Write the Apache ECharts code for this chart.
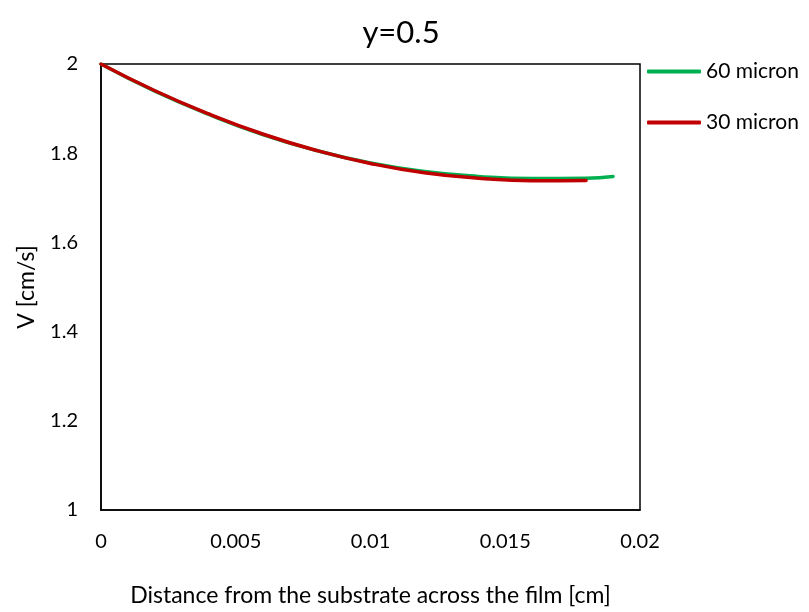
<!DOCTYPE html>
<html><head><meta charset="utf-8">
<script src="https://cdn.jsdelivr.net/npm/echarts@6/dist/echarts.min.js"></script>
<style>html,body{margin:0;padding:0;background:#fff}#c{width:809px;height:612px}</style>
</head><body><div id="c"></div>
<script>
const xValues60 = [0, 0.002, 0.004, 0.006, 0.008, 0.010, 0.012, 0.014, 0.016, 0.018, 0.019];
const v60 = [2.000, 1.939, 1.887, 1.842, 1.806, 1.778, 1.759, 1.748, 1.743, 1.744, 1.748];
const xValues30 = [0, 0.002, 0.004, 0.006, 0.008, 0.010, 0.012, 0.014, 0.016, 0.018];
const v30 = [2.000, 1.940, 1.888, 1.843, 1.806, 1.777, 1.756, 1.744, 1.738, 1.739];
const xTicks = [0, 0.005, 0.01, 0.015, 0.02];
const yTicks = [1, 1.2, 1.4, 1.6, 1.8, 2];
const seriesNames = ['60 micron', '30 micron'];

const font = 'Lato, "Open Sans", sans-serif';
const chart = echarts.init(document.getElementById('c'), null, {renderer: 'canvas'});
chart.setOption({
  animation: false,
  backgroundColor: '#fff',
  title: {text: 'y=0.5', left: 396, top: 12, textAlign: 'center',
    textStyle: {fontFamily: font, fontSize: 31, fontWeight: 'normal', color: '#000'}},
  legend: {orient: 'vertical', left: 647, top: 61, padding: 0, itemGap: 30, itemWidth: 54, itemHeight: 4,
    icon: 'roundRect', data: seriesNames,
    textStyle: {fontFamily: font, fontSize: 21, color: '#000', padding: [0, 0, 0, 0]}},
  grid: {left: 101, right: 169, top: 64, bottom: 99, show: true, borderColor: '#000', borderWidth: 1.5},
  xAxis: {type: 'value', min: 0, max: 0.02, interval: 0.005,
    name: 'Distance from the substrate across the film [cm]', nameLocation: 'middle', nameGap: 74,
    nameTextStyle: {fontFamily: font, fontSize: 23, color: '#000'},
    axisLine: {show: true, lineStyle: {color: '#000', width: 1.5}},
    axisTick: {show: false}, splitLine: {show: false},
    axisLabel: {fontFamily: font, fontSize: 20, color: '#000', margin: 22,
      formatter: v => String(parseFloat(v.toFixed(4)))}},
  yAxis: {type: 'value', min: 1, max: 2, interval: 0.2,
    name: 'V [cm/s]', nameLocation: 'middle', nameGap: 63,
    nameTextStyle: {fontFamily: font, fontSize: 23, color: '#000'},
    axisLine: {show: true, lineStyle: {color: '#000', width: 1.5}},
    axisTick: {show: false}, splitLine: {show: false},
    axisLabel: {fontFamily: font, fontSize: 20, color: '#000', margin: 23,
      formatter: v => String(parseFloat(v.toFixed(2)))}},
  series: [
    {name: seriesNames[0], type: 'line', smooth: true, symbol: 'none', showSymbol: false,
      color: '#00B050', lineStyle: {color: '#00B050', width: 3.5, cap: 'round'},
      data: xValues60.map((x, i) => [x, v60[i]])},
    {name: seriesNames[1], type: 'line', smooth: true, symbol: 'none', showSymbol: false,
      color: '#C00000', lineStyle: {color: '#C00000', width: 3.5, cap: 'round'},
      data: xValues30.map((x, i) => [x, v30[i]])}
  ]
});
</script></body></html>
